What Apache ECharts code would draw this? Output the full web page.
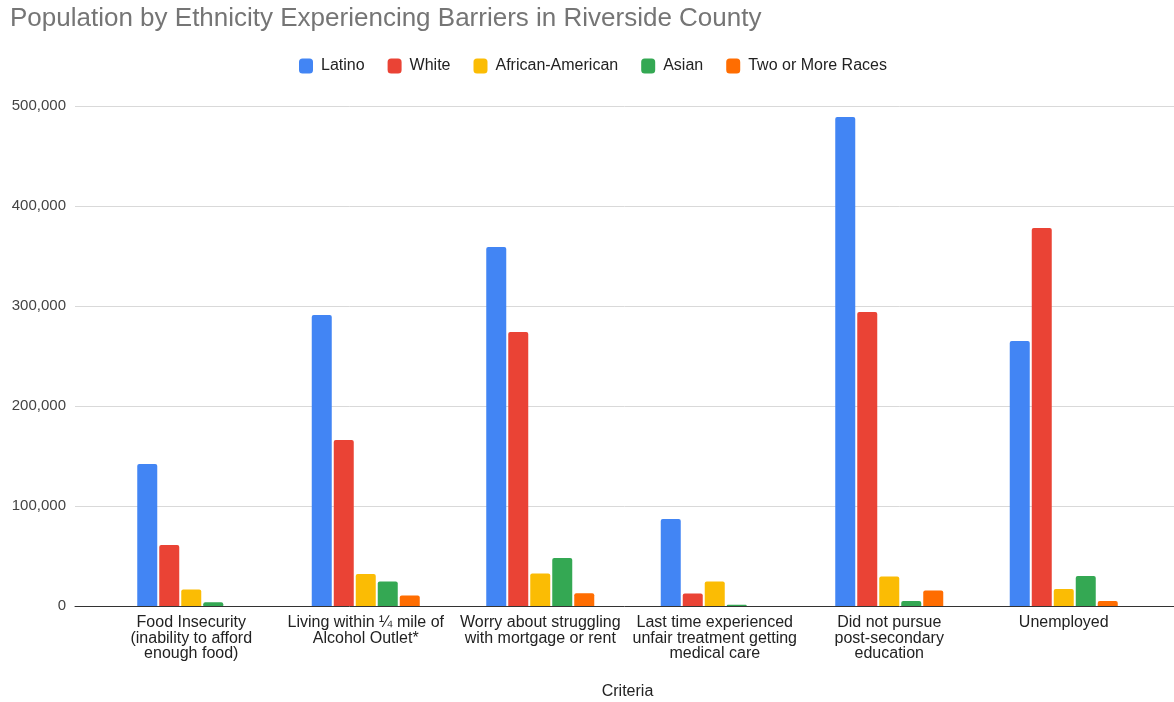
<!DOCTYPE html>
<html>
<head>
<meta charset="utf-8">
<title>Population by Ethnicity Experiencing Barriers in Riverside County</title>
<script src="https://cdn.jsdelivr.net/npm/echarts@6/dist/echarts.min.js"></script>
<style>
  html, body { margin: 0; padding: 0; background: #fff; }
  #chart { width: 1174px; height: 702px; }
</style>
</head>
<body>
<div id="chart"></div>
<script>
// Criteria shown along the x axis
const categories = [
  'Food Insecurity\n(inability to afford\nenough food)',
  'Living within \u00BC mile of\nAlcohol Outlet*',
  'Worry about struggling\nwith mortgage or rent',
  'Last time experienced\nunfair treatment getting\nmedical care',
  'Did not pursue\npost-secondary\neducation',
  'Unemployed'
];

// Population counts per ethnicity, one value per criterion
const latino          = [142000, 291000, 359000, 87000, 489000, 265000];
const white           = [61000, 166000, 274000, 12500, 294000, 378000];
const africanAmerican = [16500, 32000, 32500, 24500, 29500, 17000];
const asian           = [3800, 24500, 48000, 1200, 5000, 30000];
const twoOrMore       = [0, 10500, 12800, 0, 15500, 5000];

const seriesNames  = ['Latino', 'White', 'African-American', 'Asian', 'Two or More Races'];
const seriesValues = [latino, white, africanAmerican, asian, twoOrMore];
const seriesColors = ['#4285F4', '#EA4335', '#FBBC04', '#34A853', '#FF6D01'];

// Value axis ticks
const yMin = 0, yMax = 500000, yStep = 100000;

const FONT = '"Liberation Sans", Arial, sans-serif';

const chart = echarts.init(document.getElementById('chart'), null, { renderer: 'canvas' });

const option = {
  backgroundColor: '#ffffff',
  animation: false,
  title: {
    text: 'Population by Ethnicity Experiencing Barriers in Riverside County',
    left: 5,
    top: 1,
    textStyle: { fontFamily: FONT, fontSize: 26, fontWeight: 'normal', color: '#757575' }
  },
  legend: {
    data: seriesNames,
    left: 294,
    top: 53,
    itemWidth: 14,
    itemHeight: 15,
    itemGap: 23,
    icon: 'roundRect',
    textStyle: { fontFamily: FONT, fontSize: 16, color: '#222222', padding: [0, 0, 0, 3] }
  },
  grid: [
    // background grid: full-width gridlines, y labels and baseline
    { left: 75, right: 0, top: 106, bottom: 96, outerBoundsMode: 'none' },
    // bar grid
    { left: 104, right: 23, top: 106, bottom: 96, outerBoundsMode: 'none' }
  ],
  xAxis: [
    {
      gridIndex: 0,
      type: 'category',
      data: [''],
      axisLine: { show: true, lineStyle: { color: '#333333', width: 1 } },
      axisTick: { show: false },
      axisLabel: { show: false },
      splitLine: { show: false }
    },
    {
      gridIndex: 1,
      type: 'category',
      data: categories,
      name: 'Criteria',
      nameLocation: 'middle',
      nameGap: 78,
      nameTextStyle: { fontFamily: FONT, fontSize: 16, color: '#222222' },
      axisLine: { show: false },
      axisTick: { show: false },
      axisLabel: {
        interval: 0,
        margin: 9,
        fontFamily: FONT,
        fontSize: 16,
        lineHeight: 15.5,
        color: '#222222',
        align: 'center'
      }
    }
  ],
  yAxis: [
    {
      gridIndex: 0,
      type: 'value',
      min: yMin,
      max: yMax,
      interval: yStep,
      axisLine: { show: false },
      axisTick: { show: false },
      axisLabel: {
        margin: 9,
        fontFamily: FONT,
        fontSize: 15,
        color: '#444444',
        formatter: v => v.toLocaleString('en-US')
      },
      splitLine: { show: true, lineStyle: { color: '#d9d9d9', width: 1 } }
    },
    {
      gridIndex: 1,
      type: 'value',
      min: yMin,
      max: yMax,
      interval: yStep,
      show: false,
      splitLine: { show: false }
    }
  ],
  series: seriesNames.map((name, i) => ({
    name,
    type: 'bar',
    xAxisIndex: 1,
    yAxisIndex: 1,
    data: seriesValues[i],
    barWidth: 20,
    barGap: '10%',
    itemStyle: { color: seriesColors[i], borderRadius: [2, 2, 0, 0] }
  }))
};

chart.setOption(option);
</script>
</body>
</html>
